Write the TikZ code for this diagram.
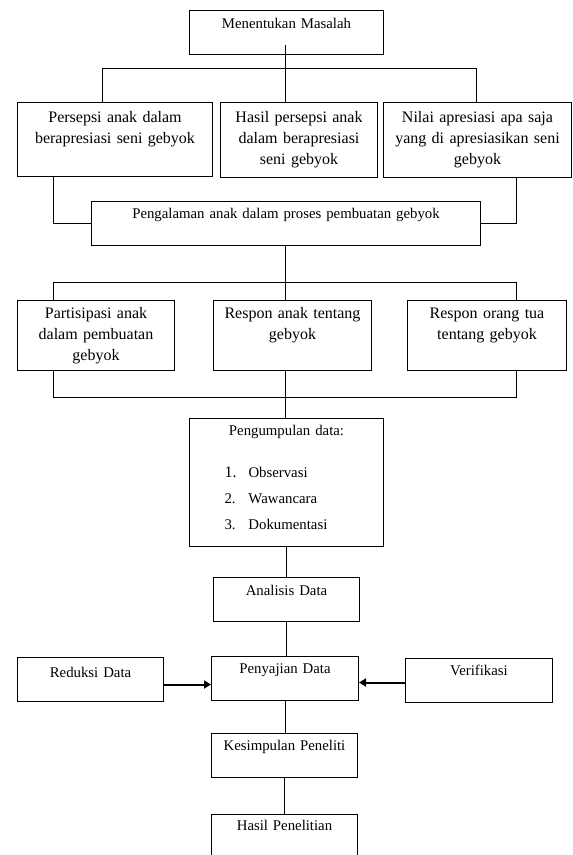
\documentclass[tikz,border=0pt]{standalone}
\usepackage{fontspec}
\setmainfont{Liberation Serif}
\usepackage{tikz}
\usetikzlibrary{arrows.meta, calc}

\begin{document}
\begin{tikzpicture}[x=1pt, y=-1pt, >={Triangle[length=7pt, width=8pt]},
    box/.style n args={3}{draw, line width=1pt, anchor=north west, inner sep=0pt,
      align=center, text width=#1, text height=#3, text depth={#2-#3},
      font=\fontsize{14.8}{17}\selectfont},
    big/.style={font=\fontsize{16}{21}\selectfont},
    link/.style={line width=1pt},
    push/.style={line width=2pt, ->}]
  \useasboundingbox (0,0) rectangle (573,855);

  % Problem at the top
  \node [box={194}{44}{18}] (masalah) at (189,10) {Menentukan Masalah};

  % First row
  \node [box={195}{74}{20}, big] (persepsi) at (17,102) {Persepsi anak dalam\\berapresiasi seni gebyok};
  \node [box={157}{75}{20}, big] (hasil-persepsi) at (220,102) {Hasil persepsi anak\\dalam berapresiasi\\seni gebyok};
  \node [box={188}{75}{20}, big] (nilai) at (383,102) {Nilai apresiasi apa saja\\yang di apresiasikan seni\\gebyok};

  \node [box={389}{44}{17}] (pengalaman) at (91,201) {Pengalaman anak dalam proses pembuatan gebyok};

  % Second row
  \node [box={157}{70}{18}, big] (partisipasi) at (17,300) {Partisipasi anak\\dalam pembuatan\\gebyok};
  \node [box={158}{70}{18}, big] (respon-anak) at (213,300) {Respon anak tentang\\gebyok};
  \node [box={159}{70}{18}, big] (respon-ortu) at (407,300) {Respon orang tua\\tentang gebyok};

  % Data collection and analysis
  \node [box={194}{128}{17}] (pengumpulan) at (189,418) {Pengumpulan data:\\[25pt]
    \makebox[194pt][l]{\hspace*{35pt}\makebox[24pt][l]{\fontsize{16}{17}\selectfont 1.}Observasi}\\[9pt]
    \makebox[194pt][l]{\hspace*{35pt}\makebox[24pt][l]{2.}Wawancara}\\[9pt]
    \makebox[194pt][l]{\hspace*{35pt}\makebox[24pt][l]{3.}Dokumentasi}};
  \node [box={146}{44}{18}] (analisis) at (213,577) {Analisis Data};
  \node [box={146}{44}{20}] (reduksi) at (17,657) {Reduksi Data};
  \node [box={147}{44}{17}] (penyajian) at (211,656) {Penyajian Data};
  \node [box={147}{44}{17}] (verifikasi) at (405,658) {Verifikasi};
  \node [box={146}{44}{17}] (kesimpulan) at (211,733) {Kesimpulan Peneliti};
  \node [box={146}{44}{16}] (hasil-penelitian) at (211,814) {Hasil Penelitian};

  % Bus points
  \coordinate (top-l) at (102,68);
  \coordinate (top-m) at (285,68);
  \coordinate (top-r) at (476,68);
  \coordinate (mid-l) at (53,282);
  \coordinate (mid-m) at (285,282);
  \coordinate (mid-r) at (516,282);
  \coordinate (low-l) at (53,397);
  \coordinate (low-m) at (285,397);
  \coordinate (low-r) at (516,397);

  % Draw the connecting lines
  \draw [link] ([yshift=10pt]masalah.south -| top-m) -- (top-m |- hasil-persepsi.north);
  \draw [link] (top-l |- persepsi.north) -- (top-l) -- (top-r) -- (top-r |- nilai.north);
  \draw [link] (mid-l |- persepsi.south) |- (pengalaman.west);
  \draw [link] (mid-r |- nilai.south) |- (pengalaman.east);
  \draw [link] (mid-m |- pengalaman.south) -- (mid-m |- respon-anak.north);
  \draw [link] (mid-l |- partisipasi.north) -- (mid-l) -- (mid-r) -- (mid-r |- respon-ortu.north);
  \draw [link] (low-l |- partisipasi.south) -- (low-l) -- (low-r) -- (low-r |- respon-ortu.south);
  \draw [link] (low-m |- respon-anak.south) -- (low-m |- pengumpulan.north);

  \foreach \a/\b in {pengumpulan/analisis, analisis/penyajian, penyajian/kesimpulan, kesimpulan/hasil-penelitian}
    \draw [link] (\a.south) -- (\a.south |- \b.north);

  % Draw the arrows
  \draw [push] ([yshift=-5pt]reduksi.east) -- ([yshift=-5pt]reduksi.east -| penyajian.west);
  \draw [push] ([yshift=-2pt]verifikasi.west) -- ([yshift=-2pt]verifikasi.west -| penyajian.east);
\end{tikzpicture}
\end{document}
